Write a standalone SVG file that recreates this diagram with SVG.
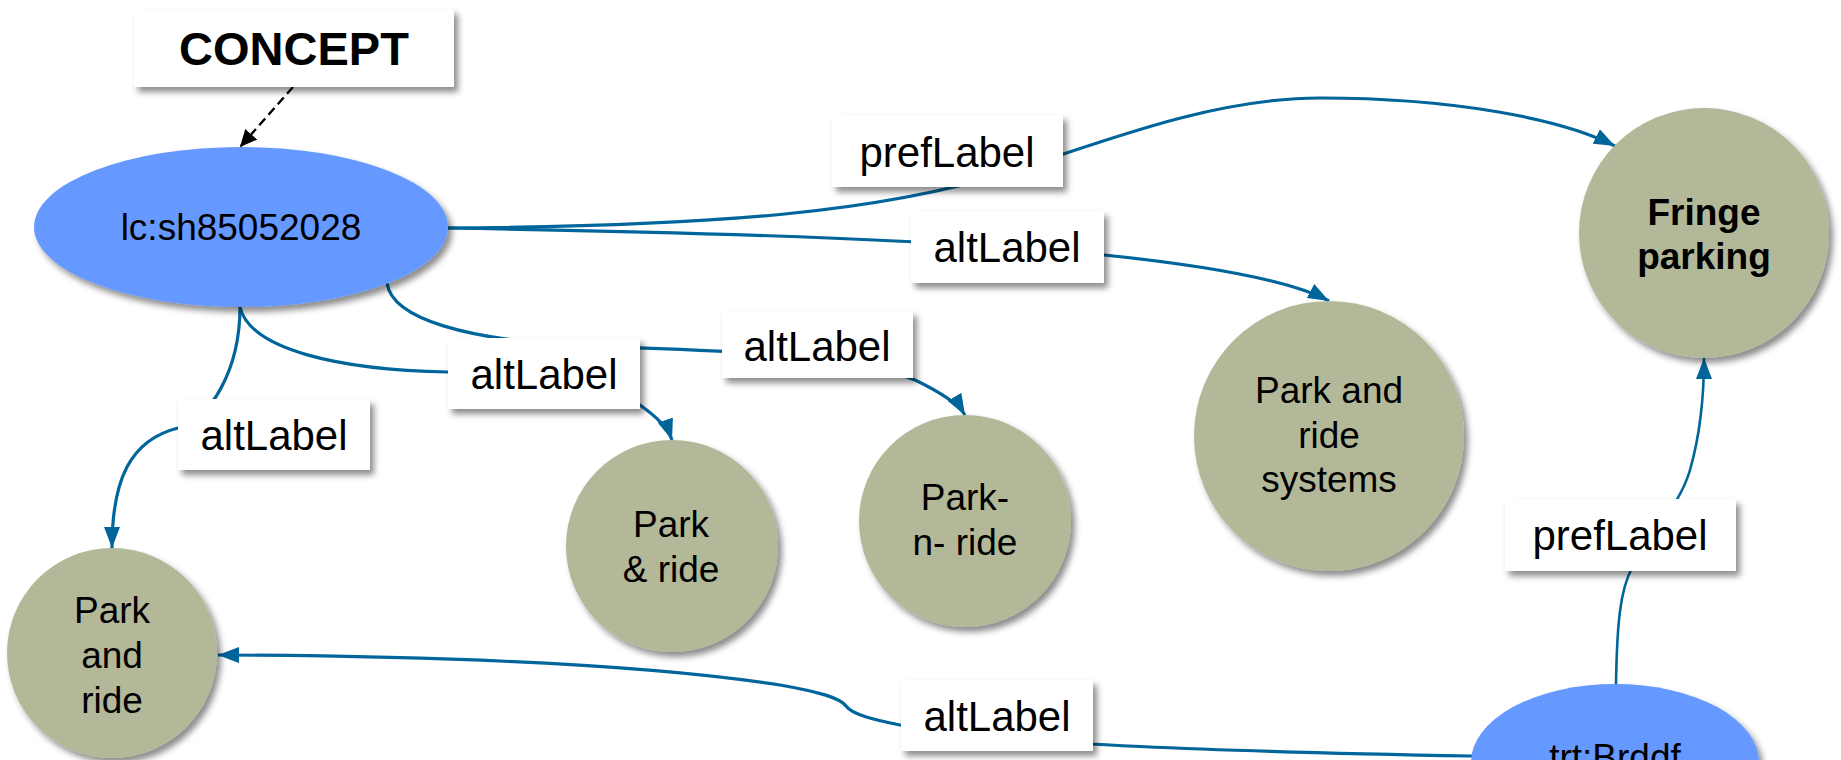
<svg xmlns="http://www.w3.org/2000/svg" width="1841" height="760" viewBox="0 0 1841 760">
<defs>
<style>
.edge{fill:none;stroke:#00659B;stroke-width:3.2}
.thin{stroke-width:2.6}
.dash{fill:none;stroke:#000;stroke-width:2.4;stroke-dasharray:9,5}
.lbl rect{fill:#fff}
.lbl text{font-family:"Liberation Sans",Arial,sans-serif;font-size:42px;fill:#000;text-anchor:middle}
.node text{font-family:"Liberation Sans",Arial,sans-serif;font-size:37px;fill:#000;text-anchor:middle}
.green{fill:#B2B898}
.blue{fill:#6699FF}
</style>
<filter id="sh" x="-20%" y="-20%" width="150%" height="150%">
<feDropShadow dx="4" dy="5" stdDeviation="3" flood-color="#000" flood-opacity="0.45"/>
</filter>
<marker id="ab" markerUnits="userSpaceOnUse" markerWidth="22" markerHeight="16" refX="21" refY="8" orient="auto">
<path d="M0,0 L21,8 L0,16 Z" fill="#00659B"/>
</marker>
<marker id="ak" markerUnits="userSpaceOnUse" markerWidth="18" markerHeight="16" refX="17" refY="8" orient="auto">
<path d="M0,0 L17,8 L0,16 Z" fill="#000"/>
</marker>
</defs>
<rect width="1841" height="760" fill="#fff"/>
<g id="connectors">
<path class="dash" d="M293,87 L240,147" marker-end="url(#ak)"/>
<path class="edge" d="M448,228 C720,226 880,212 1010,172 C1120,135 1220,98 1320,98 C1450,98 1560,118 1615,146" marker-end="url(#ab)"/>
<path class="edge" d="M448,228 C700,232 950,240 1104,255 C1200,265 1290,280 1329,301" marker-end="url(#ab)"/>
<path class="edge" d="M240,307 C250,350 340,370 448,372 C560,374 615,388 640,405 C658,418 668,428 672,440" marker-end="url(#ab)"/>
<path class="edge" d="M387,283 C392,320 470,340 580,346 C700,350 850,352 915,380 C940,392 958,403 965,415" marker-end="url(#ab)"/>
<path class="edge" d="M240,307 C240,370 210,420 178,428 C130,440 112,480 112,548" marker-end="url(#ab)"/>
<path class="edge" d="M1472,756 C1250,752 1000,745 900,725 C870,719 852,714 846,706 C840,698 820,692 780,685 C650,665 450,656 218,655" marker-end="url(#ab)"/>
<path class="edge thin" d="M1616,684 C1617,625 1620,590 1632,568 C1650,535 1680,505 1690,470 C1700,435 1704,400 1704,358" marker-end="url(#ab)"/>
</g>
<g id="concept-label" class="lbl">
<rect x="134" y="9" width="320" height="78" filter="url(#sh)"/>
<text x="294" y="65" style="font-size:47px;font-weight:bold">CONCEPT</text>
</g>
<g id="lbl-pref1" class="lbl">
<rect x="832" y="115" width="231" height="72" filter="url(#sh)"/>
<text x="947" y="167">prefLabel</text>
</g>
<g id="lbl-alt1" class="lbl">
<rect x="911" y="211" width="193" height="72" filter="url(#sh)"/>
<text x="1007" y="262">altLabel</text>
</g>
<g id="lbl-alt2" class="lbl">
<rect x="448" y="338" width="192" height="71" filter="url(#sh)"/>
<text x="544" y="389">altLabel</text>
</g>
<g id="lbl-alt3" class="lbl">
<rect x="722" y="311" width="191" height="67" filter="url(#sh)"/>
<text x="817" y="361">altLabel</text>
</g>
<g id="lbl-alt4" class="lbl">
<rect x="178" y="399" width="192" height="71" filter="url(#sh)"/>
<text x="274" y="450">altLabel</text>
</g>
<g id="lbl-alt5" class="lbl">
<rect x="901" y="680" width="192" height="71" filter="url(#sh)"/>
<text x="997" y="731">altLabel</text>
</g>
<g id="lbl-pref2" class="lbl">
<rect x="1505" y="499" width="231" height="72" filter="url(#sh)"/>
<text x="1620" y="550">prefLabel</text>
</g>
<g id="node-lc" class="node">
<ellipse cx="241" cy="227" rx="207" ry="80" class="blue" filter="url(#sh)"/>
<text x="241" y="240">lc:sh85052028</text>
</g>
<g id="node-trt" class="node">
<ellipse cx="1615" cy="762" rx="144" ry="78" class="blue" filter="url(#sh)"/>
<text x="1615" y="770">trt:Brddf</text>
</g>
<g id="node-fringe" class="node">
<circle cx="1704" cy="233" r="125" class="green" filter="url(#sh)"/>
<text x="1704" y="225" style="font-weight:bold">Fringe</text>
<text x="1704" y="269" style="font-weight:bold">parking</text>
</g>
<g id="node-systems" class="node">
<circle cx="1329" cy="436" r="135" class="green" filter="url(#sh)"/>
<text x="1329" y="403">Park and</text>
<text x="1329" y="448">ride</text>
<text x="1329" y="492">systems</text>
</g>
<g id="node-parknride" class="node">
<circle cx="965" cy="521" r="106" class="green" filter="url(#sh)"/>
<text x="965" y="510">Park-</text>
<text x="965" y="555">n- ride</text>
</g>
<g id="node-parkamp" class="node">
<circle cx="672" cy="546" r="106" class="green" filter="url(#sh)"/>
<text x="671" y="537">Park</text>
<text x="671" y="582">&amp; ride</text>
</g>
<g id="node-parkand" class="node">
<circle cx="112" cy="653" r="105" class="green" filter="url(#sh)"/>
<text x="112" y="623">Park</text>
<text x="112" y="668">and</text>
<text x="112" y="713">ride</text>
</g>
</svg>
